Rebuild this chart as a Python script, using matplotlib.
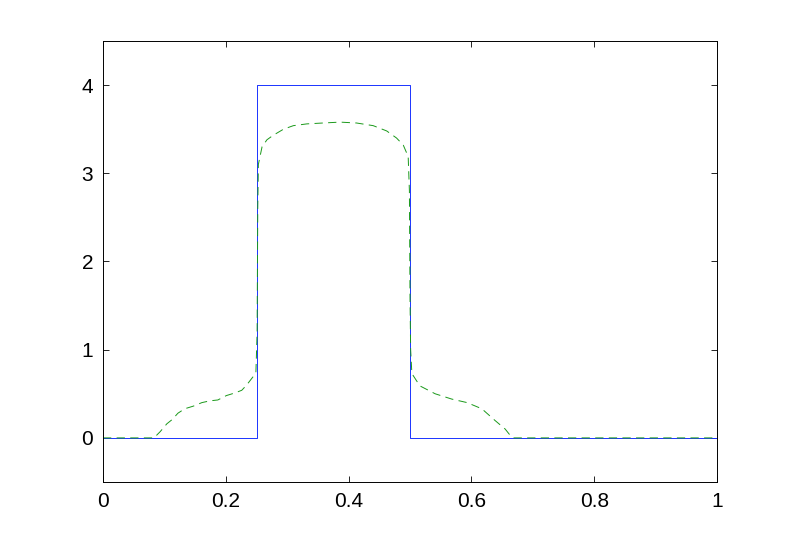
import matplotlib
matplotlib.use("Agg")
import matplotlib.pyplot as plt

# Solid (exact) profile
exact_x = [0.0, 0.25, 0.25, 0.5, 0.5, 1.0]
exact_y = [0.0, 0.0, 4.0, 4.0, 0.0, 0.0]

# Dashed (approximate) profile
approx_x = [0.0, 0.083, 0.093, 0.104, 0.113, 0.122, 0.133, 0.147, 0.161, 0.174,
            0.187, 0.201, 0.215, 0.226, 0.234, 0.244, 0.249, 0.251, 0.252, 0.253,
            0.259, 0.267, 0.277, 0.294, 0.310, 0.332, 0.358, 0.386, 0.413, 0.440,
            0.462, 0.478, 0.489, 0.497, 0.499, 0.500, 0.501, 0.503, 0.516, 0.541,
            0.568, 0.593, 0.617, 0.638, 0.655, 0.663, 0.668, 1.0]
approx_y = [0.0, 0.0, 0.07, 0.16, 0.21, 0.28, 0.33, 0.36, 0.40, 0.42,
            0.43, 0.48, 0.51, 0.54, 0.60, 0.69, 0.74, 1.2, 2.6, 3.10,
            3.30, 3.38, 3.43, 3.50, 3.54, 3.56, 3.57, 3.58, 3.57, 3.54,
            3.48, 3.40, 3.32, 3.19, 2.8, 1.6, 1.0, 0.73, 0.59, 0.50,
            0.44, 0.40, 0.33, 0.20, 0.10, 0.03, 0.0, 0.0]

x_ticks = [0, 0.2, 0.4, 0.6, 0.8, 1]
x_ticklabels = ["0", "0.2", "0.4", "0.6", "0.8", "1"]
y_ticks = [0, 1, 2, 3, 4]
y_ticklabels = ["0", "1", "2", "3", "4"]

plt.rcParams['font.family'] = ['Liberation Sans', 'DejaVu Sans']

fig = plt.figure(figsize=(7.93, 5.42), dpi=100)
ax = fig.add_axes([0.1299, 0.1107, 0.7743, 0.8137])

ax.plot(exact_x, exact_y, color=(0.1, 0.2, 1), lw=0.7, solid_joinstyle='round')
ax.plot(approx_x, approx_y, color=(0.1, 0.6, 0.1), lw=0.7, dashes=(8.5, 5.5))

ax.set_xlim(0, 1)
ax.set_ylim(-0.5, 4.5)
ax.set_xticks(x_ticks)
ax.set_xticklabels(x_ticklabels)
ax.set_yticks(y_ticks)
ax.set_yticklabels(y_ticklabels)
ax.tick_params(direction='in', length=4.5, width=0.6, top=True, right=True,
               labelsize=15, pad=7)
for s in ax.spines.values():
    s.set_linewidth(0.7)
    s.set_color('black')

fig.savefig("out.png", dpi=100)
